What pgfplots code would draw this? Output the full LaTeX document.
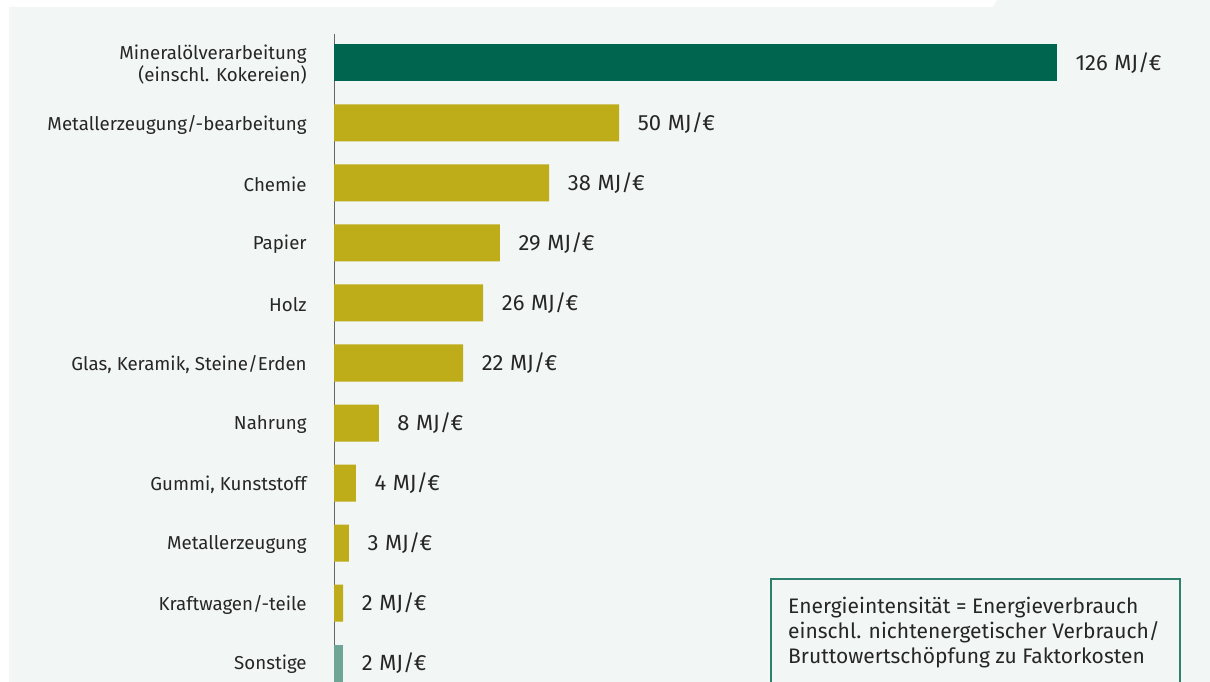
\documentclass[border=0pt]{standalone}
\usepackage{pgfplots}
\pgfplotsset{compat=1.18}
\usepackage{fontspec}
\setmainfont{Fira Sans}
\definecolor{bg}{HTML}{F2F6F5}
\definecolor{dkgreen}{HTML}{00654F}
\definecolor{olivebar}{HTML}{BEAC18}
\definecolor{tealbar}{HTML}{6EA596}
\definecolor{axisgray}{HTML}{666666}
\definecolor{txt}{HTML}{262626}
\definecolor{boxgreen}{HTML}{2E7F6C}
\begin{document}
\begin{tikzpicture}[x=1pt,y=1pt]
\useasboundingbox (0,0) rectangle (1210,682);
\fill[white] (0,0) rectangle (1210,682);
\fill[bg] (9,0) -- (9,675) -- (993,675) -- (997,682) -- (1210,682) -- (1210,0) -- cycle;
\begin{scope}
\clip (0,0) rectangle (1210,682);
\begin{axis}[
  at={(334pt,0pt)}, anchor=south west,
  scale only axis, width=860.7pt, height=648pt,
  xmin=0, xmax=150, ymin=-0.4833, ymax=10.3167,
  y dir=reverse,
  xbar, bar width=37pt, bar shift=0pt,
  axis x line=none,
  axis y line=left,
  y axis line style={-, draw=axisgray, line width=1pt},
  ytick={0,...,10},
  ytick style={draw=none},
  yticklabels={{Mineralölverarbeitung\\(einschl. Kokereien)}, Metallerzeugung/-bearbeitung, Chemie, Papier, Holz, {Glas, Keramik, Steine/Erden}, Nahrung, {Gummi, Kunststoff}, Metallerzeugung, Kraftwagen/-teile, Sonstige},
  yticklabel style={align=right, font=\fontsize{18.7}{21.5}\selectfont, text=txt, inner sep=0pt, xshift=-25pt, yshift=-1.5pt},
  point meta=explicit symbolic,
  nodes near coords={\pgfplotspointmeta\hspace{0.3em}MJ/€},
  nodes near coords style={anchor=west, inner sep=0pt, xshift=18.5pt, yshift=-0.5pt, font=\fontsize{22}{24}\selectfont, text=txt},
  clip=false,
]
\addplot[fill=dkgreen, draw=none] coordinates {(126,0) [126]};
\addplot[fill=olivebar, draw=none] coordinates {(49.7,1) [50] (37.5,2) [38] (28.9,3) [29] (26.0,4) [26] (22.5,5) [22] (7.8,6) [8] (3.8,7) [4] (2.6,8) [3] (1.6,9) [2]};
\addplot[fill=tealbar, draw=none] coordinates {(1.6,10) [2]};
\end{axis}
\draw[boxgreen, line width=1.2pt, fill=bg] (771,-5) rectangle (1180,103);
\node[anchor=base west, inner sep=0pt, font=\fontsize{21}{24}\selectfont, text=txt] at (788,68) {Energieintensität = Energieverbrauch};
\node[anchor=base west, inner sep=0pt, font=\fontsize{21}{24}\selectfont, text=txt] at (788,43) {einschl. nichtenergetischer Verbrauch/};
\node[anchor=base west, inner sep=0pt, font=\fontsize{21}{24}\selectfont, text=txt] at (788,18) {Bruttowertschöpfung zu Faktorkosten};
\end{scope}
\end{tikzpicture}
\end{document}
